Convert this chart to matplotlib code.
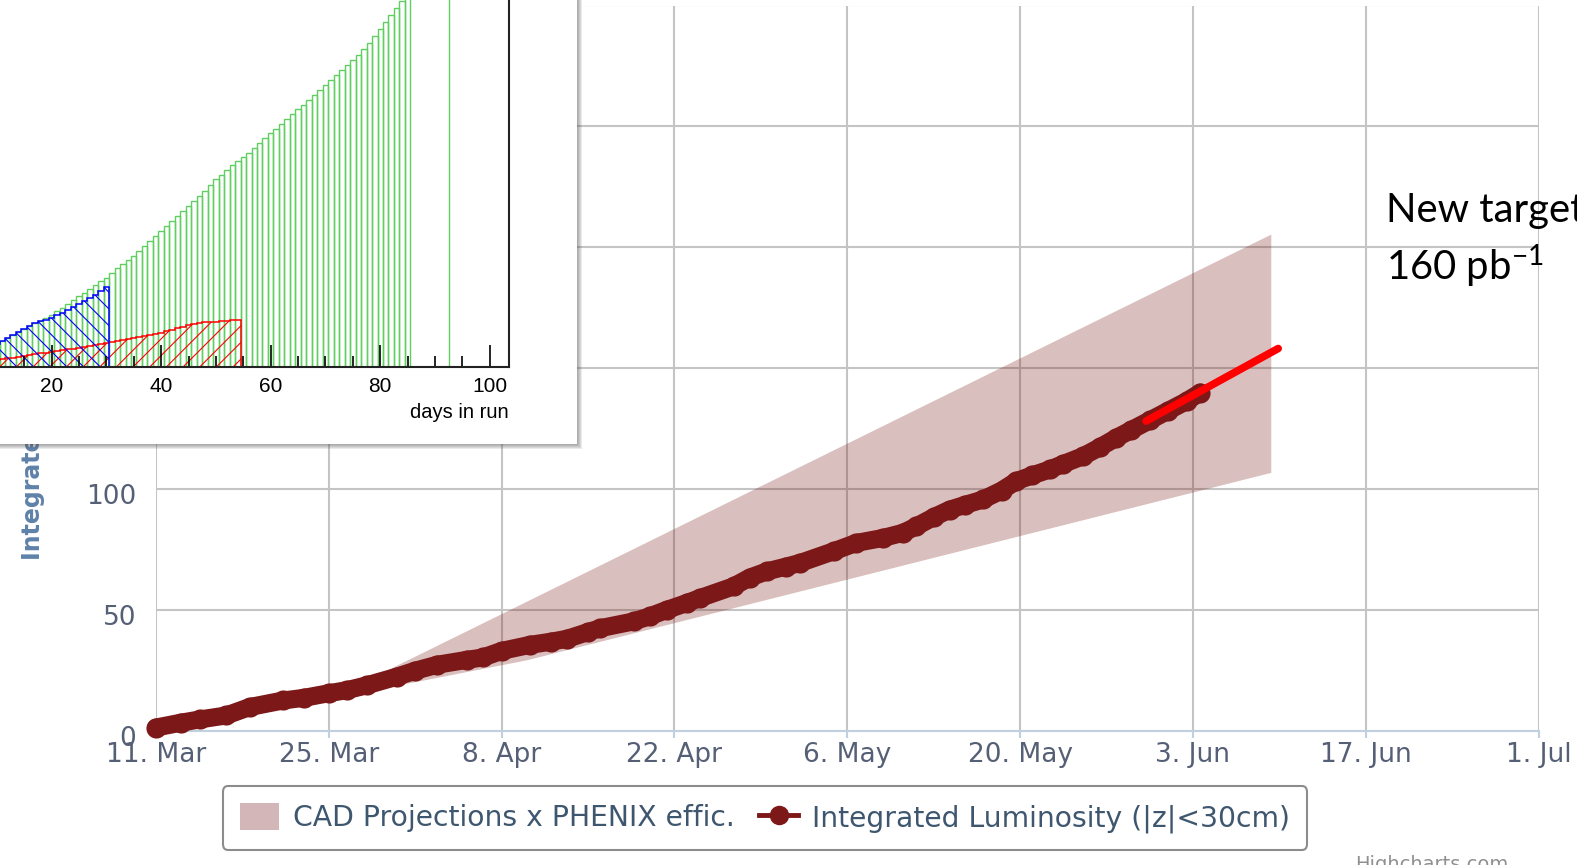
#!/usr/bin/env python3
import numpy as np
import matplotlib
matplotlib.use("Agg")
import matplotlib.pyplot as plt
import matplotlib.dates as mdates
from matplotlib.patches import Rectangle, Patch
from matplotlib.lines import Line2D
from matplotlib.transforms import ScaledTranslation

plt.rcParams["font.family"] = ["DejaVu Sans"]
plt.rcParams["mathtext.fontset"] = "custom"
plt.rcParams["mathtext.rm"] = "Lato"
plt.rcParams["mathtext.it"] = "Lato:italic"
plt.rcParams["hatch.linewidth"] = 0.8

# ---- main chart data (days after 11 Mar 2013, pb^-1) ----
run_start = "2013-03-11"
lumi_days = [0, 2, 3.6, 5.7, 7.6, 10.3, 12, 14, 15.5, 17.1, 19.5, 21, 22.8,
             25.2, 26.5, 28, 30.3, 32, 33.3, 35, 36, 38.7, 40, 41.4, 43, 44.1,
             46.8, 48.1, 49.5, 51, 52.2, 54.9, 56.7, 58.9, 60.5, 61.6, 63,
             64.3, 65.5, 67, 68.5, 69.7, 71, 72.4, 73.5, 75.1, 76.5, 77.8, 79,
             80.5, 82, 83.5, 84.6]
lumi_values = [1.5, 3.5, 4.9, 6.5, 10, 12.7, 13.8, 15.7, 17, 19, 22.5, 25,
               27.5, 29.5, 30.5, 33.2, 35.7, 37, 38.2, 41, 42.6, 45.4, 47.5,
               50.2, 53, 55.1, 59.9, 63.5, 66.1, 68, 69.6, 74.4, 77.8, 79.9,
               82, 84.7, 88.5, 91.6, 93.5, 95.8, 99.5, 103.4, 105.8, 108.2,
               110.5, 113.7, 117.5, 121.3, 124.5, 128.5, 132.5, 136.5, 140]
proj_days = [80.2, 90.9]
proj_values = [128.2, 158.2]
band_days = [0, 15, 30, 90.3]
band_upper = [0, 16, 53.7, 205.5]
band_lower = [0, 14.5, 29.5, 107]
tick_days = [0, 14, 28, 42, 56, 70, 84, 98, 112]
legend_labels = ["CAD Projections x PHENIX effic.",
                 "Integrated Luminosity (|z|<30cm)"]

# ---- inset (ROOT histogram) data, one bin per day ----
green_lumi = [0, 0.5, 1.5, 2.5, 3.5, 5, 6, 7.5, 9, 10, 11.5,
              13, 14.5, 16, 17.5, 19, 20.5, 22, 23, 24.5, 26,
              28, 29.5, 31.5, 33.5, 35.5, 37, 39, 41, 43, 44.5,
              47, 49.5, 51.5, 53.5, 55.5, 58, 60.5, 63, 65.5, 68,
              70.5, 73, 75.5, 78, 80.5, 83, 85.5, 88, 91, 94,
              96, 98.5, 101, 103, 105, 107, 109.5, 112, 114.5, 117,
              119, 121.5, 124, 126.5, 129, 131, 133.5, 136, 138.5, 141,
              143.5, 146, 148.5, 151, 153.5, 156, 159, 162, 165.5, 169,
              172.5, 176, 179.5, 183, 186.5]
green_spike_day = 92.5
blue_lumi = [0, 0.5, 1.5, 2.5, 3.5, 5, 6, 7.5, 9, 10, 11.5,
             13, 14.5, 16, 17.5, 19, 20.5, 22, 23,
             23.5, 24.5, 26, 27, 28.5, 30, 31.5, 33, 34.5, 36, 38, 40]
red_lumi = [0, 0.3, 0.7, 1, 1.4, 1.8, 2.1, 2.5, 2.8, 3.2, 3.5,
            3.9, 4.3, 4.7, 5.1, 5.5, 6, 6.4, 6.8, 7.2, 7.6,
            8, 8.4, 8.8, 9.2, 9.6, 10, 10.5, 11, 11.5, 12,
            12.5, 13, 13.5, 14, 14.5, 15, 15.5, 16, 16.5, 17,
            17.8, 18.5, 19.3, 20, 20.8, 21.5, 22,
            22.3, 22.5, 22.7, 22.9, 23.1, 23.3, 23.5]

W, H = 1577, 865


def fx(px):
    return px / W


def fy(py):
    return 1 - py / H


fig = plt.figure(figsize=(W / 100, H / 100), dpi=100)

# ---- main Highcharts-like chart ----
t0 = mdates.datestr2num(run_start)
ax = fig.add_axes([fx(155.9), fy(731.2), fx(1538.7 - 155.9), (731.2 - 5.5) / H])
ax.set_zorder(0)
ax.fill_between(t0 + np.array(band_days), band_lower, band_upper,
                color="#7c1a1a", alpha=0.28, lw=0, zorder=1)
ax.plot(t0 + np.array(lumi_days), lumi_values, color="#7d1818", lw=13,
        marker="o", ms=14.5, mec="none", solid_capstyle="round",
        solid_joinstyle="round", zorder=3, clip_on=False)
ax.plot(t0 + np.array(proj_days), proj_values, color="#ff0000", lw=5.5,
        solid_capstyle="round", zorder=4)

ax.set_xlim(t0, t0 + 112)
ax.set_ylim(0, 300)
ax.set_xticks(t0 + np.array(tick_days))
ax.xaxis.set_major_formatter(mdates.DateFormatter("%-d. %b"))
ax.set_yticks(np.arange(0, 301, 50))
ax.set_axisbelow(True)
ax.grid(True, color="#c4c4c4", lw=1.5)
for side in ["top", "right", "left"]:
    ax.spines[side].set_visible(False)
ax.spines["bottom"].set_color("#c0d0e0")
ax.spines["bottom"].set_linewidth(1.5)
ax.tick_params(axis="x", length=5, width=1.5, color="#c0d0e0",
               labelsize=19, labelcolor="#555f75", pad=3)
ax.tick_params(axis="y", length=0, pad=14, labelsize=19,
               labelcolor="#555f75")
shift = ScaledTranslation(0, -5 / 100, fig.dpi_scale_trans)
for lab in ax.get_yticklabels():
    lab.set_transform(lab.get_transform() + shift)

fig.text(fx(33), fy(560), "Integrated Luminosity (pb⁻¹)", rotation=90,
         ha="center", va="bottom", fontsize=17, fontweight="bold",
         color="#5f82aa", zorder=1)

handles = [Patch(facecolor="#d3b6b7", edgecolor="none"),
           Line2D([0], [0], color="#7d1818", lw=3.5, marker="o", ms=13)]
leg = fig.legend(handles, legend_labels, loc="center",
                 bbox_to_anchor=(fx(765), fy(818)), ncol=2, fontsize=20.3,
                 frameon=True, fancybox=True, edgecolor="#8c8c8c",
                 framealpha=1, handlelength=1.4, handleheight=1.1,
                 handletextpad=0.5, columnspacing=0.85, borderpad=0.6,
                 labelcolor="#3e576f")
leg.get_frame().set_linewidth(1.5)

fig.text(fx(1386), fy(221.7), "New target", fontsize=28.8, family="Lato",
         va="baseline", color="black", zorder=3)
fig.text(fx(1386), fy(280), r"160 pb$^{-1}$", fontsize=28.8, family="Lato",
         va="baseline", color="black", zorder=3)
fig.text(fx(1355), fy(855), "Highcharts.com", fontsize=14, color="#909090",
         va="top")

# ---- inset box with shadow ----
for k in range(5, 0, -1):
    fig.add_artist(Rectangle((0, fy(444 + k)), fx(577 + k), 1,
                             facecolor="#555555", edgecolor="none",
                             alpha=0.12, zorder=1.4))
fig.add_artist(Rectangle((0, fy(444)), fx(577), 1, facecolor="white",
                         edgecolor="none", zorder=1.5))

axi = fig.add_axes([fx(-58), fy(367), 567 / W, 400 / H])
axi.set_zorder(2)
days = np.arange(len(green_lumi))
axi.bar(days, green_lumi, width=1, fill=False, edgecolor="#5fcf5f", lw=1.0)
axi.vlines(green_spike_day, 0, 200, color="#5fcf5f", lw=1.0)
axi.stairs(red_lumi, np.arange(len(red_lumi) + 1) - 0.5, fill=True,
           facecolor="none", edgecolor="#ff0000", hatch="//", lw=1.1)
axi.stairs(blue_lumi, np.arange(len(blue_lumi) + 1) - 0.5, fill=True,
           facecolor="none", edgecolor="#0000ff", hatch="\\\\", lw=1.1)

axi.set_xlim(0, 103.5)
axi.set_ylim(0, 200)
axi.set_xticks(np.arange(20, 101, 20))
axi.set_xticks(np.arange(5, 104, 5), minor=True)
axi.set_yticks([])
for side in ["bottom", "right", "left", "top"]:
    axi.spines[side].set_color("#222222")
    axi.spines[side].set_linewidth(1.5)
axi.tick_params(axis="x", which="major", direction="in", length=16,
                width=1.2, pad=7, labelsize=15, labelfontfamily="Liberation Sans")
axi.tick_params(axis="x", which="minor", direction="in", length=8, width=1.2)
axi.set_xlabel("days in run", loc="right", fontsize=14.5,
               family="Liberation Sans", labelpad=5)

fig.savefig("out.png", dpi=100, facecolor="white")
